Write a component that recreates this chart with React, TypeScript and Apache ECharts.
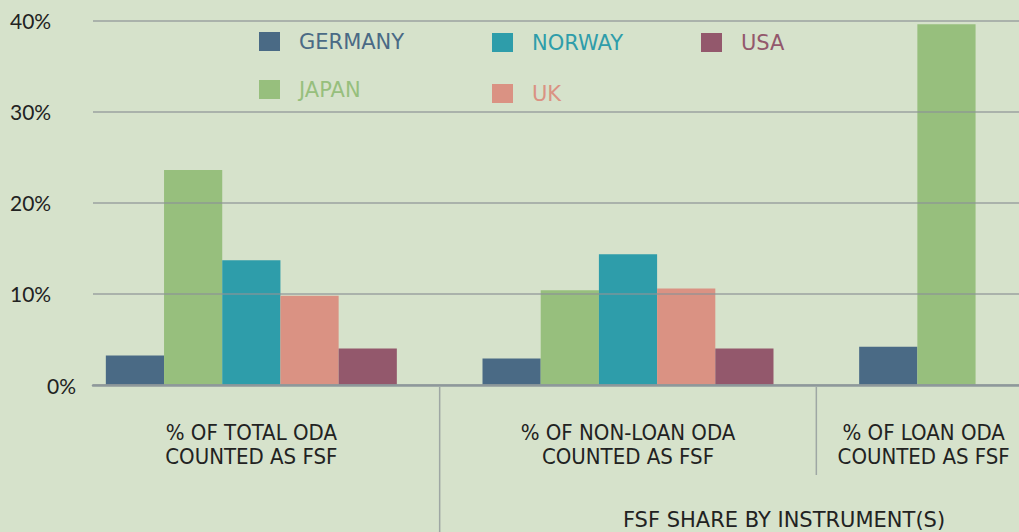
import React, { useEffect, useRef } from 'react';
import * as echarts from 'echarts';

const CATEGORIES = [
  '% OF TOTAL ODA\nCOUNTED AS FSF',
  '% OF NON-LOAN ODA\nCOUNTED AS FSF',
  '% OF LOAN ODA\nCOUNTED AS FSF',
];
const GERMANY = [3.25, 2.9, 4.2];
const JAPAN = [23.6, 10.4, 39.6];
const NORWAY = [13.7, 14.35, null];
const UK = [9.8, 10.6, null];
const USA = [4.0, 4.0, null];
const Y_MIN = 0;
const Y_MAX = 40;
const Y_STEP = 10;
const GROUP_TITLE = 'FSF SHARE BY INSTRUMENT(S)';

const SERIES = [
  { name: 'GERMANY', values: GERMANY, color: '#4a6a85' },
  { name: 'JAPAN', values: JAPAN, color: '#97bf7d' },
  { name: 'NORWAY', values: NORWAY, color: '#2e9daa' },
  { name: 'UK', values: UK, color: '#da9283' },
  { name: 'USA', values: USA, color: '#93586c' },
];

const LEGEND_POS: Record<string, { left: number; top: number }> = {
  GERMANY: { left: 259, top: 31 },
  NORWAY: { left: 492, top: 32 },
  USA: { left: 701, top: 32 },
  JAPAN: { left: 259, top: 79 },
  UK: { left: 492, top: 83 },
};

const BG = '#d6e2cb';
const TEXT = '#222222';
const CAT_FONT = '"DejaVu Sans Condensed", "DejaVu Sans", sans-serif';

export default function App() {
  const ref = useRef<HTMLDivElement>(null);
  useEffect(() => {
    if (!ref.current) return;
    const chart = echarts.init(ref.current, null, { renderer: 'svg' });
    const option: any = {
      animation: false,
      backgroundColor: BG,
      grid: [
        { left: 63, top: 20.5, width: 1130, height: 364.5, outerBoundsMode: 'none', containLabel: false },
        { left: 93, right: 0, top: 20.5, height: 364.5, outerBoundsMode: 'none', containLabel: false },
      ],
      legend: SERIES.map((s) => ({
        data: [s.name],
        left: LEGEND_POS[s.name].left,
        top: LEGEND_POS[s.name].top,
        padding: 0,
        icon: 'rect',
        itemWidth: 21,
        itemHeight: 19,
        selectedMode: false,
        textStyle: {
          color: s.color,
          fontFamily: '"DejaVu Sans", sans-serif',
          fontSize: 21,
          padding: [2, 0, 0, 14],
        },
      })),
      xAxis: [
        {
          type: 'category',
          gridIndex: 0,
          data: CATEGORIES.map((c, i) =>
            i === 2 ? { value: c, textStyle: { padding: [0, 162, 0, 0] } } : { value: c }
          ),
          axisLine: { show: false },
          axisTick: { show: false },
          axisLabel: {
            interval: 0,
            margin: 35,
            color: TEXT,
            fontFamily: CAT_FONT,
            fontSize: 22,
            lineHeight: 24,
          },
        },
        {
          type: 'value',
          gridIndex: 1,
          min: 0,
          max: 1,
          z: 4,
          axisLine: { show: true, lineStyle: { color: '#8e989b', width: 2.5 } },
          axisTick: { show: false },
          axisLabel: { show: false },
          splitLine: { show: false },
        },
      ],
      yAxis: [
        {
          type: 'value',
          gridIndex: 0,
          min: Y_MIN,
          max: Y_MAX,
          interval: Y_STEP,
          show: false,
          splitLine: { show: false },
        },
        {
          type: 'value',
          gridIndex: 1,
          min: Y_MIN,
          max: Y_MAX,
          interval: Y_STEP,
          z: 3,
          axisLine: { show: false },
          axisTick: { show: false },
          splitLine: { show: true, lineStyle: { color: 'rgba(140,148,150,0.8)', width: 1.6 } },
          axisLabel: {
            align: 'left',
            margin: 83,
            color: TEXT,
            fontFamily: 'Lato, sans-serif',
            fontSize: 21,
            formatter: (v: number) => (v === 0 ? '{z|0%}' : v + '%'),
            rich: {
              z: { padding: [0, 0, 0, 37], color: TEXT, fontFamily: 'Lato, sans-serif', fontSize: 21 },
            },
          },
        },
      ],
      series: SERIES.map((s) => ({
        name: s.name,
        type: 'bar',
        xAxisIndex: 0,
        yAxisIndex: 0,
        data: s.values,
        barWidth: 58.2,
        barGap: '0%',
        itemStyle: { color: s.color },
      })),
    };
    chart.setOption(option);

    const p0 = chart.convertToPixel({ gridIndex: 0 }, [0, 0]) as number[];
    const p1 = chart.convertToPixel({ gridIndex: 0 }, [1, 0]) as number[];
    const p2 = chart.convertToPixel({ gridIndex: 0 }, [2, 0]) as number[];
    const b1 = (p0[0] + p1[0]) / 2;
    const b2 = (p1[0] + p2[0]) / 2;
    const yAxisPx = p0[1];
    chart.setOption({
      graphic: [
        {
          type: 'line',
          shape: { x1: b1, y1: yAxisPx + 2, x2: b1, y2: 532 },
          style: { stroke: '#9ea7a4', lineWidth: 1.5 },
        },
        {
          type: 'line',
          shape: { x1: b2, y1: yAxisPx + 2, x2: b2, y2: 475 },
          style: { stroke: '#9ea7a4', lineWidth: 1.5 },
        },
        {
          type: 'text',
          x: 784,
          y: 520,
          style: {
            text: GROUP_TITLE,
            fill: TEXT,
            fontFamily: '"DejaVu Sans", sans-serif',
            fontSize: 21,
            align: 'center',
            verticalAlign: 'middle',
          },
        },
      ],
    });
    return () => chart.dispose();
  }, []);
  return (
    <div
      ref={ref}
      style={{ position: 'fixed', left: 0, top: 0, width: 1019, height: 532, background: BG }}
    />
  );
}
